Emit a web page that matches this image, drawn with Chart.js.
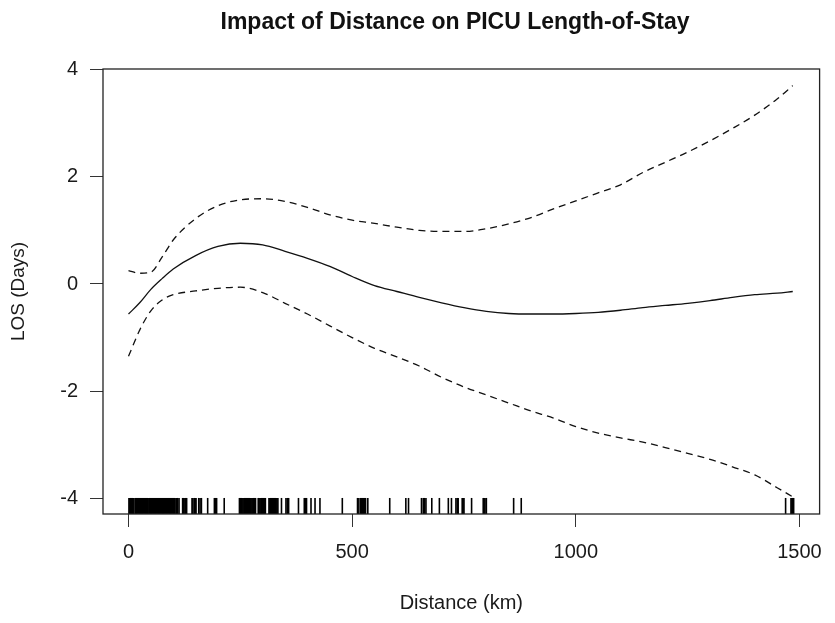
<!DOCTYPE html>
<html lang="en">
<head>
<meta charset="UTF-8">
<title>Impact of Distance on PICU Length-of-Stay</title>
<script src="https://cdn.jsdelivr.net/npm/chart.js@4/dist/chart.umd.min.js"></script>
<style>
    body { margin: 0; background: #fff; }
</style>
</head>
<body>
<canvas id="grafico" width="835" height="623"></canvas>
<script>
    // distance grid (km)
    var distance = [0, 25, 50, 75, 100, 150, 200, 250, 300, 350, 400, 450, 500, 550, 600, 650, 700, 750,
        800, 850, 900, 950, 1000, 1050, 1100, 1150, 1200, 1250, 1300, 1350, 1400, 1450, 1485];

    // smooth fit (solid) and confidence band (dashed), LOS in days
    var fit = [-0.56, -0.35, -0.10, 0.10, 0.28, 0.53, 0.70, 0.76, 0.73, 0.61, 0.48, 0.33, 0.14, -0.03, -0.14, -0.25, -0.35, -0.44,
        -0.51, -0.55, -0.56, -0.56, -0.55, -0.53, -0.49, -0.44, -0.40, -0.36, -0.31, -0.25, -0.20, -0.17, -0.14];
    var upper = [0.25, 0.20, 0.22, 0.50, 0.82, 1.22, 1.46, 1.57, 1.59, 1.54, 1.43, 1.29, 1.19, 1.13, 1.06, 1.00, 0.98, 0.98,
        1.03, 1.12, 1.24, 1.40, 1.55, 1.70, 1.85, 2.08, 2.27, 2.46, 2.67, 2.90, 3.15, 3.45, 3.70];
    var lower = [-1.35, -0.86, -0.50, -0.30, -0.20, -0.13, -0.08, -0.06, -0.16, -0.36, -0.56, -0.78, -1.00, -1.20, -1.36, -1.53, -1.74, -1.92,
        -2.07, -2.22, -2.37, -2.50, -2.66, -2.78, -2.87, -2.95, -3.05, -3.16, -3.27, -3.41, -3.56, -3.80, -3.97];

    // observed distances shown as a rug along the x axis
    var rugDistance = [1, 3, 5, 7, 9, 10, 12, 15, 17, 18, 20, 23, 25, 27, 29, 31, 33, 36, 38, 40, 42, 44, 47, 49, 51, 53,
        56, 58, 60, 62, 65, 67, 69, 71, 74, 76, 78, 80, 83, 85, 87, 90, 92, 94, 96, 99, 101, 103, 106, 108, 110, 113,
        121, 123, 126, 128, 130, 142, 144, 147, 149, 151, 157, 160, 163, 177, 192, 194, 197, 214,
        248, 250, 252, 254, 256, 258, 260, 262, 264, 266, 268, 270, 272, 274, 276, 278, 280, 282, 284,
        290, 292, 294, 296, 298, 300, 302, 304, 306, 314, 316, 318, 320, 322, 324, 326, 328, 330, 332, 334,
        342, 352, 355, 358, 380, 393, 396, 398, 408, 417, 428, 478,
        512, 515, 519, 521, 523, 525, 527, 530, 535, 584, 620, 626, 655, 659, 662, 665, 678, 695, 715, 722,
        732, 735, 737, 746, 748, 750, 767, 793, 795, 797, 800, 861, 878, 1469, 1481, 1483, 1485, 1487];
    var rugLevel = -4.14;

    var xTicks = [0, 500, 1000, 1500];
    var yTicks = [-4, -2, 0, 2, 4];

    function toPoints(xs, ys) {
        return xs.map(function (x, i) { return { x: x, y: ys[i] }; });
    }

    Chart.defaults.font.family = "'Liberation Sans', Arial, sans-serif";
    Chart.defaults.color = '#1a1a1a';

    // R-style frame around the plot region
    var frame = {
        id: 'frame',
        afterDraw: function (chart) {
            var a = chart.chartArea, ctx = chart.ctx;
            ctx.save();
            ctx.strokeStyle = '#222';
            ctx.lineWidth = 1.3;
            ctx.strokeRect(a.left, a.top, a.right - a.left, a.bottom - a.top);
            ctx.restore();
        }
    };

    // main title, centred like R's title()
    var mainTitle = {
        id: 'mainTitle',
        afterDraw: function (chart) {
            var ctx = chart.ctx;
            ctx.save();
            ctx.font = "bold 23px 'Liberation Sans', Arial, sans-serif";
            ctx.fillStyle = '#111';
            ctx.textAlign = 'center';
            ctx.textBaseline = 'alphabetic';
            ctx.fillText('Impact of Distance on PICU Length-of-Stay', 455, 29);
            ctx.restore();
        }
    };

    var tickGrid = { display: true, drawOnChartArea: false, drawTicks: true, tickLength: 13, color: '#333', lineWidth: 1 };

    var config = {
        type: 'line',
        data: {
            datasets: [
                {
                    label: 'fit',
                    data: toPoints(distance, fit),
                    borderColor: '#111',
                    borderWidth: 1.3,
                    pointRadius: 0,
                    cubicInterpolationMode: 'monotone'
                },
                {
                    label: 'upper',
                    data: toPoints(distance, upper),
                    borderColor: '#111',
                    borderWidth: 1.3,
                    borderDash: [7, 5],
                    pointRadius: 0,
                    cubicInterpolationMode: 'monotone'
                },
                {
                    label: 'lower',
                    data: toPoints(distance, lower),
                    borderColor: '#111',
                    borderWidth: 1.3,
                    borderDash: [7, 5],
                    pointRadius: 0,
                    cubicInterpolationMode: 'monotone'
                },
                {
                    type: 'scatter',
                    label: 'rug',
                    data: rugDistance.map(function (d) { return { x: d, y: rugLevel }; }),
                    showLine: false,
                    pointStyle: 'line',
                    rotation: 90,
                    pointRadius: 8,
                    pointBorderWidth: 1.6,
                    pointBorderColor: '#000',
                    pointBackgroundColor: '#000',
                    clip: false
                }
            ]
        },
        options: {
            responsive: false,
            animation: false,
            layout: { padding: { top: 69, right: 10, bottom: 0, left: 0 } },
            plugins: {
                legend: { display: false },
                tooltip: { enabled: false },
                title: { display: false }
            },
            scales: {
                x: {
                    type: 'linear',
                    min: -57,
                    max: 1545,
                    afterBuildTicks: function (s) { s.ticks = xTicks.map(function (v) { return { value: v }; }); },
                    afterFit: function (s) { s.height = 109; },
                    grid: tickGrid,
                    border: { display: false },
                    ticks: {
                        font: { size: 20 }, padding: 13, maxRotation: 0, autoSkip: false,
                        callback: function (v) { return String(v); }
                    },
                    title: { display: true, text: 'Distance (km)', font: { size: 20 }, padding: { top: 0, bottom: 8 } }
                },
                y: {
                    type: 'linear',
                    min: -4.29,
                    max: 4.01,
                    afterBuildTicks: function (s) { s.ticks = yTicks.map(function (v) { return { value: v }; }); },
                    afterFit: function (s) { s.width = 103; },
                    grid: tickGrid,
                    border: { display: false },
                    ticks: { font: { size: 20 }, padding: 12, callback: function (v) { return String(v); } },
                    title: { display: true, text: 'LOS (Days)', font: { size: 19 }, padding: { top: 7, bottom: 0 } }
                }
            }
        },
        plugins: [frame, mainTitle]
    };

    var myChart = new Chart('grafico', config);
</script>
</body>
</html>
